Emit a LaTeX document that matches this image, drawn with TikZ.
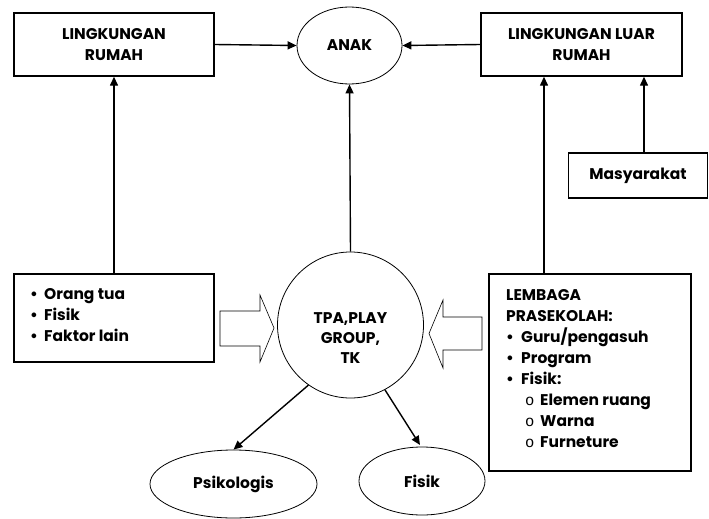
\documentclass[tikz,border=0pt]{standalone}
\usepackage{fontspec}
\setmainfont{Poppins}
\newfontfamily\monof{Liberation Mono}
\usetikzlibrary{arrows.meta,shapes.geometric}
\begin{document}
\begin{tikzpicture}[x=1pt,y=-1pt,
  every node/.style={font=\fontsize{15.5}{21}\selectfont\bfseries, inner sep=0pt},
  boxn/.style={draw, line width=1.4pt},
  elln/.style={draw, ellipse, line width=0.8pt},
  conn/.style={line width=1.4pt, -{Triangle[length=9pt,width=8pt]}},
  blk/.style={line width=0.6pt}]
\useasboundingbox (0,0) rectangle (709,519);
% boxes
\node[boxn, minimum width=200pt, minimum height=63pt, align=center] (lr) at (114,44.5) {LINGKUNGAN\\RUMAH};
\node[boxn, minimum width=201pt, minimum height=63pt, align=center] (llr) at (581.5,44.5) {LINGKUNGAN LUAR\\RUMAH};
\node[elln, minimum width=105pt, minimum height=77pt] (anak) at (349.5,45.5) {ANAK};
\node[boxn, minimum width=139pt, minimum height=45pt] (mas) at (638,175.5) {Masyarakat};
\node[boxn, minimum width=200pt, minimum height=88pt] (kiri) at (114,318) {};
\node[anchor=north west, align=left] (kiritxt) at (30,288) {\makebox[14pt][l]{•}Orang tua\\\makebox[14pt][l]{•}Fisik\\\makebox[14pt][l]{•}Faktor lain};
\node[boxn, minimum width=202pt, minimum height=197pt] (lem) at (590,372.5) {};
\node[anchor=north west, align=left] (lemtxt) at (506,289) {LEMBAGA\\PRASEKOLAH:\\\makebox[15pt][l]{•}Guru/pengasuh\\\makebox[15pt][l]{•}Program\\\makebox[15pt][l]{•}Fisik:\\\hspace*{19pt}\makebox[15pt][l]{\monof\mdseries o}Elemen ruang\\\hspace*{19pt}\makebox[15pt][l]{\monof\mdseries o}Warna\\\hspace*{19pt}\makebox[15pt][l]{\monof\mdseries o}Furneture};
\node[draw, circle, line width=0.8pt, minimum size=146pt] (tpa) at (350.5,325) {};
\node[align=center, font=\fontsize{15.5}{20}\selectfont\bfseries] (tpatxt) at (350.5,338) {TPA,PLAY\\GROUP,\\TK};
\node[elln, minimum width=167pt, minimum height=68pt] (psi) at (233.5,484) {Psikologis};
\node[elln, minimum width=126pt, minimum height=68pt] (fis) at (422,481) {Fisik};
% connectors
\coordinate (fisend) at (420,445);
\draw[conn] (lr.east) -- (anak.west);
\draw[conn] (llr.west) -- (anak.east);
\draw[conn] (tpa.north) -- (anak.south);
\draw[conn] (kiri.north) -- (lr.south);
\draw[conn] (lem.north -| 544,0) -- (llr.south -| 544,0);
\draw[conn] (mas.north -| 644,0) -- (llr.south -| 644,0);
\draw[conn] (tpa.-125) -- (psi.north);
\draw[conn] (tpa.-62) -- (fisend);
% block arrows
\draw[blk] (220,311) -- (260,311) -- (260,295) -- (274,328) -- (260,362) -- (260,346) -- (220,346) -- cycle;
\draw[blk] (482,317) -- (443,317) -- (443,300) -- (429,333.5) -- (443,368) -- (443,350) -- (482,350) -- cycle;
\end{tikzpicture}
\end{document}
